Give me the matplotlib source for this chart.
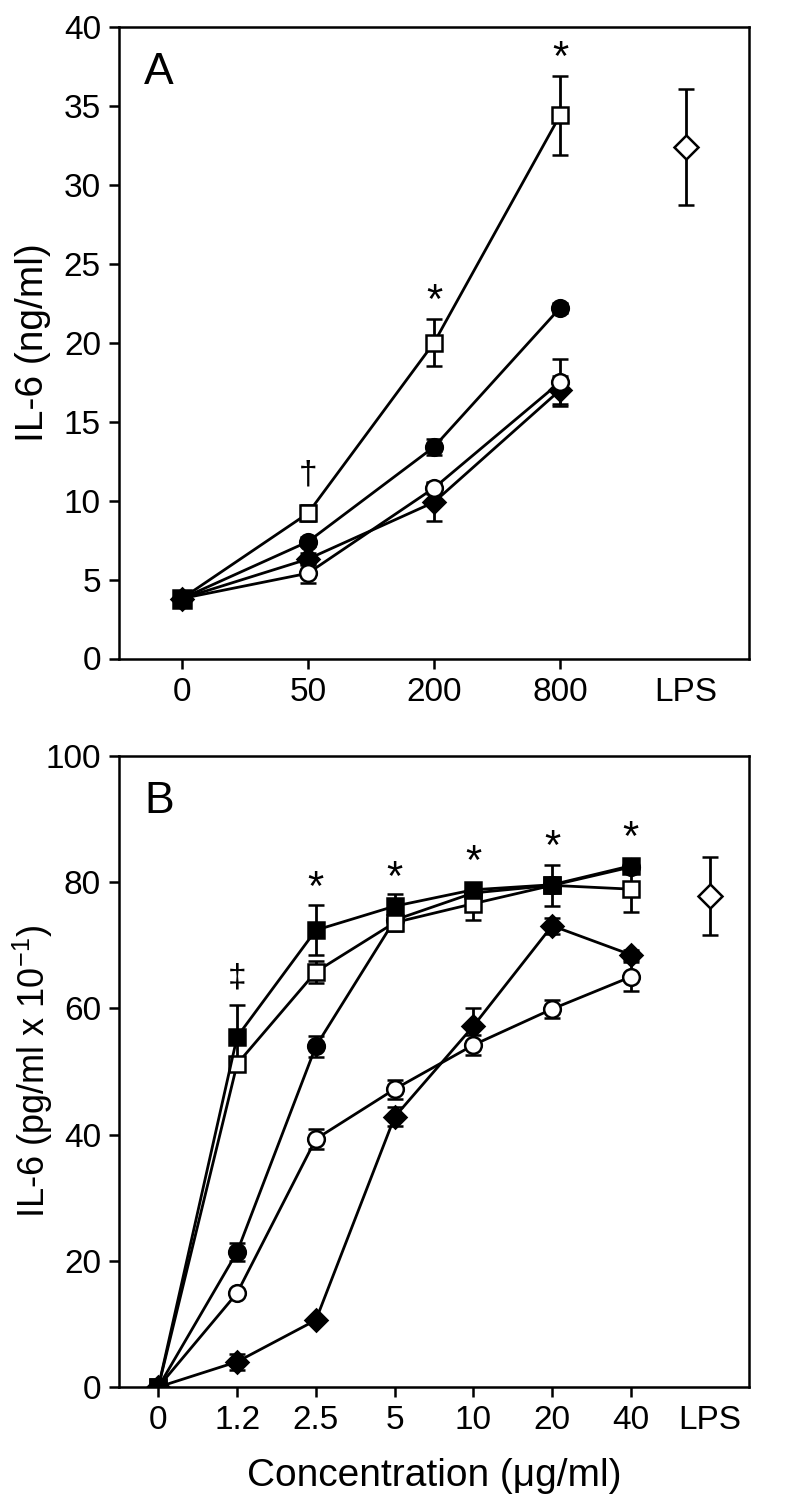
import numpy as np
import matplotlib
matplotlib.use("Agg")
import matplotlib.pyplot as plt

plt.rcParams['font.family'] = ['Liberation Sans', 'DejaVu Sans']
plt.rcParams['mathtext.fontset'] = 'custom'
plt.rcParams['mathtext.rm'] = 'Liberation Sans'
plt.rcParams['mathtext.default'] = 'regular'

# Panel A: IL-6 (ng/ml) at 0, 50, 200, 800 and LPS
a_ticks = ['0', '50', '200', '800', 'LPS']
a_open_sq = [3.8, 9.2, 20.0, 34.4]
a_open_sq_err = [0, 0.5, 1.5, 2.5]
a_fill_ci = [3.8, 7.4, 13.4, 22.2]
a_fill_ci_err = [0, 0.3, 0.5, 0.3]
a_open_ci = [3.8, 5.4, 10.8, 17.5]
a_open_ci_err = [0, 0.6, 0.4, 1.5]
a_fill_di = [3.8, 6.3, 9.9, 17.0]
a_fill_di_err = [0, 0.4, 1.2, 0.9]
a_lps, a_lps_err = 32.4, 3.7
a_marks = [(1, 11.6, '\u2020'), (2, 22.6, '*'), (3, 38.0, '*')]

# Panel B: IL-6 (pg/ml x 10^-1) at 0..40 ug/ml and LPS
b_ticks = ['0', '1.2', '2.5', '5', '10', '20', '40', 'LPS']
b_fill_sq = [0, 55.5, 72.4, 76.2, 78.8, 79.6, 82.6]
b_fill_sq_err = [0, 5.0, 4.0, 1.9, 1.0, 1.0, 0.8]
b_open_sq = [0, 51.2, 65.8, 73.6, 76.6, 79.5, 78.9]
b_open_sq_err = [0, 1.0, 1.7, 1.3, 2.6, 3.3, 3.6]
b_fill_ci = [0, 21.4, 54.0, 74.0, 78.3, 79.5, 82.4]
b_fill_ci_err = [0, 1.5, 1.7, 1.2, 1.0, 1.0, 0.8]
b_open_ci = [0, 14.9, 39.3, 47.2, 54.2, 59.9, 65.0]
b_open_ci_err = [0, 0.5, 1.6, 1.5, 1.6, 1.5, 2.3]
b_fill_di = [0, 4.0, 10.6, 42.8, 57.2, 73.1, 68.5]
b_fill_di_err = [0, 1.3, 0.5, 1.5, 2.9, 1.3, 0.8]
b_lps, b_lps_err = 77.8, 6.2
b_marks = [(1, 64.8, '\u2021'), (2, 78.9, '*'), (3, 80.5, '*'),
           (4, 83.0, '*'), (5, 85.4, '*'), (6, 86.8, '*')]

W, H = 803, 1512
fig = plt.figure(figsize=(W / 100, H / 100), dpi=100)
axA = fig.add_axes([119 / W, 1 - 658.5 / H, 630 / W, 631.5 / H])
axB = fig.add_axes([119 / W, 1 - 1387 / H, 630 / W, 631 / H])

lw = 2.0
style = dict(color='black', lw=lw, capsize=6, capthick=lw, elinewidth=lw,
             markeredgewidth=1.8, markeredgecolor='black')


def series(ax, y, err, marker, filled, ms=12):
    x = np.arange(len(y))
    ax.errorbar(x, y, yerr=err, marker=marker, ms=ms,
                mfc='black' if filled else 'white', **style)


def mark(ax, x, y, t):
    size = 30 if t == '*' else 24
    ax.text(x, y, t, ha='center', va='center', fontsize=size)


# Panel A
series(axA, a_fill_di, a_fill_di_err, 'D', True, 11.5)
series(axA, a_open_ci, a_open_ci_err, 'o', False)
series(axA, a_fill_ci, a_fill_ci_err, 'o', True)
series(axA, a_open_sq, a_open_sq_err, 's', False)
axA.errorbar([0], [a_open_sq[0]], yerr=[0.3], marker='s', ms=13, mfc='black', **style)
axA.errorbar([4], [a_lps], yerr=[a_lps_err], marker='D', ms=12.5, mfc='white', **style)
for x, y, t in a_marks:
    mark(axA, x, y, t)

axA.set_xlim(-0.5, 4.5)
axA.set_ylim(0, 40)
axA.set_yticks(np.arange(0, 41, 5))
axA.set_xticks(range(len(a_ticks)))
axA.set_xticklabels(a_ticks)
axA.set_ylabel('IL-6 (ng/ml)', fontsize=28)
axA.text(0.04, 0.96, 'A', transform=axA.transAxes, fontsize=32, va='top')

# Panel B
series(axB, b_fill_di, b_fill_di_err, 'D', True, 11.5)
series(axB, b_open_ci, b_open_ci_err, 'o', False)
series(axB, b_fill_ci, b_fill_ci_err, 'o', True)
series(axB, b_open_sq, b_open_sq_err, 's', False)
series(axB, b_fill_sq, b_fill_sq_err, 's', True)
axB.errorbar([7], [b_lps], yerr=[b_lps_err], marker='D', ms=12.5, mfc='white', **style)
for x, y, t in b_marks:
    mark(axB, x, y, t)

axB.set_xlim(-0.5, 7.5)
axB.set_ylim(0, 100)
axB.set_yticks(np.arange(0, 101, 20))
axB.set_xticks(range(len(b_ticks)))
axB.set_xticklabels(b_ticks)
axB.set_ylabel('IL-6 (pg/ml x 10$^{-1}$)', fontsize=26)
axB.set_xlabel('Concentration (\u03bcg/ml)', fontsize=28, labelpad=16)
axB.text(0.04, 0.96, 'B', transform=axB.transAxes, fontsize=32, va='top')

for ax in (axA, axB):
    ax.yaxis.set_label_coords(-0.137, 0.5)
    ax.yaxis.label.set_verticalalignment('center')
    for s in ax.spines.values():
        s.set_linewidth(1.8)
    ax.tick_params(direction='out', length=7, width=1.8, labelsize=24, pad=6)
    # no tick mark under the LPS label
    ax.xaxis.get_major_ticks()[-1].tick1line.set_visible(False)

fig.savefig('out.png', dpi=100)
